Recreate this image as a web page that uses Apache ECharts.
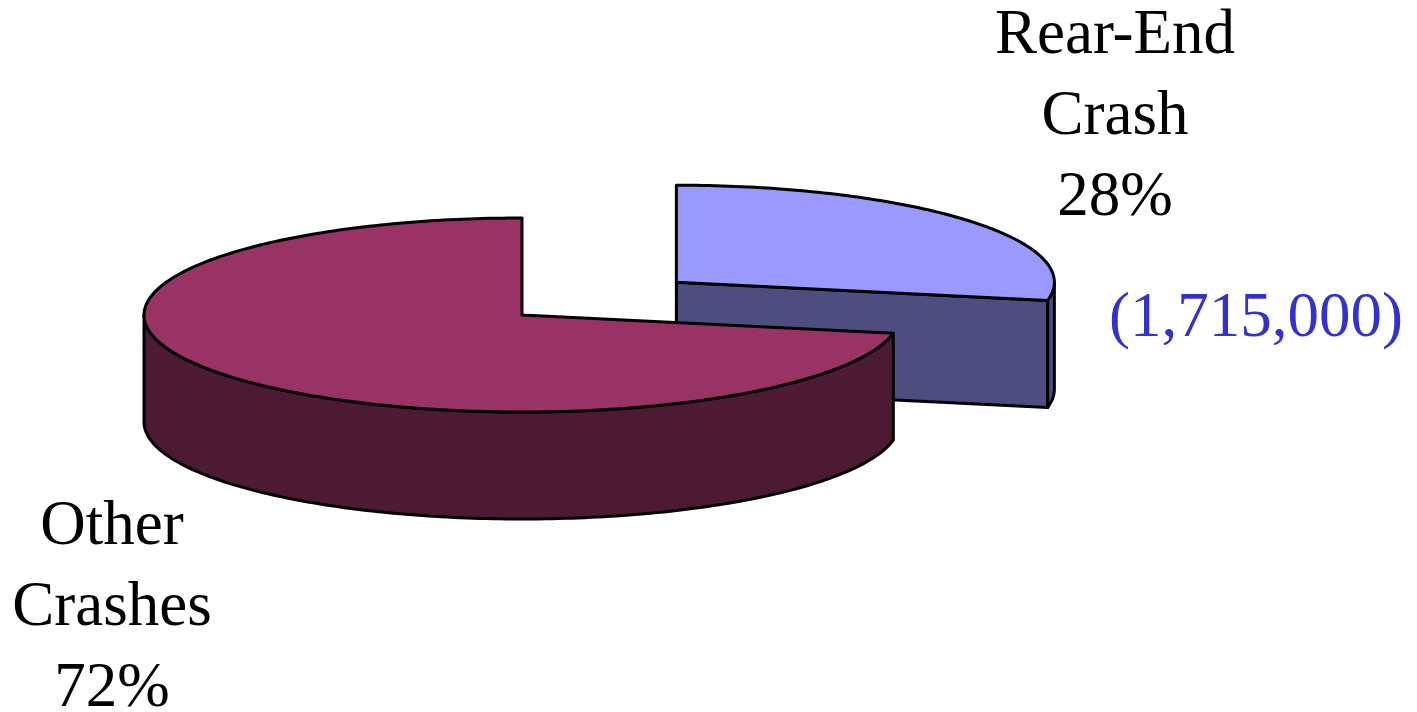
<!DOCTYPE html>
<html>
<head>
<meta charset="utf-8">
<script src="https://cdn.jsdelivr.net/npm/echarts@6/dist/echarts.min.js"></script>
<style>
  html, body { margin: 0; padding: 0; background: #fff; }
  #main { width: 1417px; height: 712px; }
</style>
</head>
<body>
<div id="main"></div>
<script>
// data
var names = ['Rear-End\nCrash', 'Other\nCrashes'];
var values = [28, 72];
var counts = ['(1,715,000)', ''];
var topColors = ['#9999FF', '#993366'];
var sideColors = ['#4D4D80', '#4D1A33'];

// 3D pie layout
var cx = 522, cy = 315, rx = 378, ry = 97, depth = 107;
var explode = [0.53, 0];

var total = values.reduce(function(a, b){ return a + b; }, 0);

function pt(deg, ox, oy, dy){
    var r = deg * Math.PI / 180;
    return [cx + ox + rx * Math.cos(r), cy + oy - ry * Math.sin(r) + dy];
}

function arc(a1, a2, ox, oy, dy){
    // a1 > a2, clockwise
    var pts = [];
    var n = Math.max(2, Math.ceil((a1 - a2) / 1));
    for(var k = 0; k <= n; k++){
        pts.push(pt(a1 - (a1 - a2) * k / n, ox, oy, dy));
    }
    return pts;
}

function renderSlice(params, api){
    var i = params.dataIndex;
    var before = 0;
    for(var j = 0; j < i; j++) before += values[j];
    var a1 = 90 - 360 * before / total;
    var a2 = a1 - 360 * api.value(0) / total;
    var mid = (a1 + a2) / 2 * Math.PI / 180;
    var ox = explode[i] * rx * Math.cos(mid);
    var oy = -explode[i] * ry * Math.sin(mid);
    var line = { stroke: '#000', lineWidth: 3, lineJoin: 'round' };
    var children = [];

    // cut faces facing the viewer
    [[a1, 90], [a2, -90]].forEach(function(f){
        var n = (f[0] + f[1]) * Math.PI / 180;
        if(Math.sin(n) < -1e-6){
            var p = pt(f[0], ox, oy, 0);
            var q = pt(f[0], ox, oy, depth);
            children.push({
                type: 'polygon',
                shape: { points: [[cx + ox, cy + oy], p, q, [cx + ox, cy + oy + depth]] },
                style: Object.assign({ fill: sideColors[i] }, line)
            });
        }
    });

    // front part of the outer wall
    for(var k = -2; k <= 1; k++){
        var lo = Math.max(a2, -180 + 360 * k);
        var hi = Math.min(a1, 360 * k);
        if(hi - lo > 0.01){
            var topArc = arc(hi, lo, ox, oy, 0);
            var botArc = arc(hi, lo, ox, oy, depth).reverse();
            children.push({
                type: 'polygon',
                shape: { points: topArc.concat(botArc) },
                style: Object.assign({ fill: sideColors[i] }, line)
            });
        }
    }

    // top face
    children.push({
        type: 'polygon',
        shape: { points: [[cx + ox, cy + oy]].concat(arc(a1, a2, ox, oy, 0)) },
        style: Object.assign({ fill: topColors[i] }, line)
    });

    return { type: 'group', children: children };
}

var myChart = echarts.init(document.getElementById('main'));

var labelFont = { fontFamily: 'Liberation Serif', fontSize: 63, lineHeight: 81, align: 'center', verticalAlign: 'top' };

var option = {
    backgroundColor: '#fff',
    animation: false,
    series: [{
        type: 'custom',
        coordinateSystem: 'none',
        silent: true,
        data: values,
        renderItem: renderSlice
    }],
    graphic: [
        {
            type: 'text', x: 1115, y: -4,
            style: Object.assign({ text: names[0] + '\n' + Math.round(values[0] / total * 100) + '%', fill: '#000' }, labelFont)
        },
        {
            type: 'text', x: 1256, y: 279,
            style: Object.assign({ text: counts[0], fill: '#3333CC' }, labelFont)
        },
        {
            type: 'text', x: 112, y: 487,
            style: Object.assign({ text: names[1] + '\n' + Math.round(values[1] / total * 100) + '%', fill: '#000' }, labelFont)
        }
    ]
};

myChart.setOption(option);
</script>
</body>
</html>
